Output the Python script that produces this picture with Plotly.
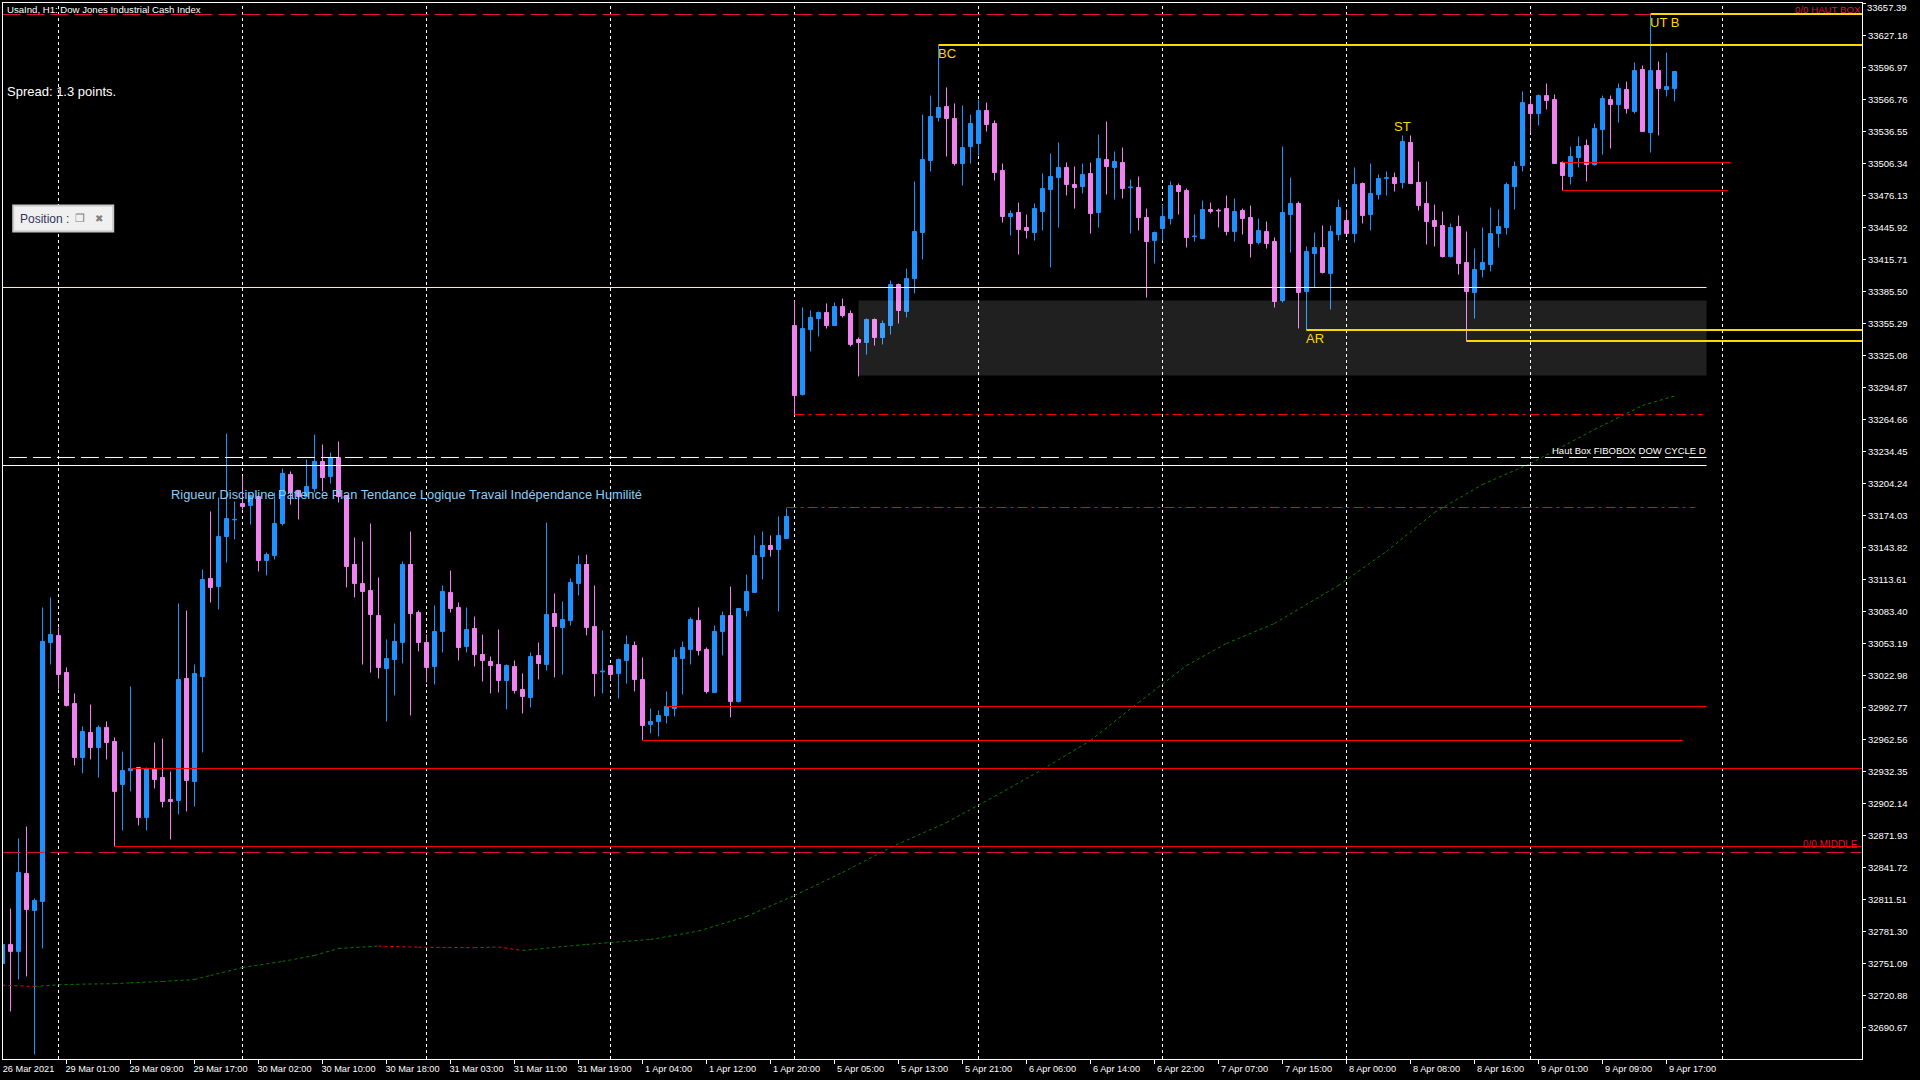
import plotly.graph_objects as go

opens = [
32751.1,32769.1,32762.5,32836.1,32801.2,32809.7,33054.1,33060.8,33025.8,32996.6,
32945.6,32969.2,32955.0,32974.0,32960.7,32920.1,32933.3,32936.1,32889.0,32934.3,
32926.7,32906.0,32905.0,33020.2,32922.9,33022.0,33114.6,33107.0,33154.2,33169.9,
33185.4,33183.5,33191.9,33131.6,33136.3,33166.5,33212.8,33197.7,33191.9,33199.5,
33225.0,33210.9,33228.8,33192.9,33127.8,33109.8,33103.2,33079.6,33029.6,33038.1,
33054.2,33127.8,33082.5,33054.2,33031.5,33064.5,33101.4,33087.2,33050.4,33067.4,
33042.8,33036.2,33033.4,33018.3,33031.5,33009.8,33002.2,33041.9,33033.4,33081.5,
33068.3,33075.0,33109.8,33127.8,33069.3,33026.4,33032.4,33024.9,33037.2,33051.3,
33019.2,32976.8,32979.6,32985.2,32991.8,33039.0,33047.6,33075.0,33047.6,33007.0,
33064.5,33079.6,32998.5,33084.4,33101.4,33135.3,33145.7,33141.9,33152.3,33353.4,
33288.3,33349.6,33360.0,33365.7,33353.4,33371.3,33364.7,33340.2,33337.4,33359.1,
33342.1,33353.4,33392.1,33366.6,33397.8,33441.2,33509.2,33549.8,33560.1,33548.8,
33506.3,33522.4,33525.2,33556.4,33544.1,33499.7,33456.3,33460.1,33445.9,33441.2,
33461.0,33481.8,33493.1,33502.6,33486.5,33484.6,33496.9,33460.1,33510.1,33502.6,
33507.3,33483.5,33483.7,33455.3,33433.6,33445.0,33454.4,33485.6,33480.8,33437.2,
33435.5,33462.9,33462.2,33463.8,33442.1,33462.0,33455.3,33431.8,33442.1,33432.7,
33377.0,33458.2,33468.6,33385.5,33421.4,33427.0,33402.5,33439.3,33452.5,33440.2,
33487.4,33458.2,33477.1,33492.3,33493.1,33488.4,33526.2,33488.4,33468.6,33452.5,
33447.8,33418.5,33446.9,33412.9,33384.6,33406.3,33411.0,33440.2,33445.9,33484.6,
33504.4,33562.0,33553.5,33570.5,33566.7,33507.3,33494.1,33512.0,33523.3,33505.4,
33538.4,33566.7,33562.0,33576.2,33555.4,33595.1,33535.6,33594.1,33576.2,33577.1]
highs = [
32787.0,32803.0,32869.1,32880.5,32812.5,33087.2,33096.6,33068.3,33030.6,33006.0,
32974.9,32995.6,32975.8,32979.6,32964.5,32951.2,33012.6,32936.1,32936.1,32959.7,
32963.5,32932.4,33091.0,33084.4,33033.4,33123.1,33177.8,33191.0,33251.4,33187.3,
33210.9,33193.9,33191.9,33139.1,33195.8,33218.4,33215.6,33197.7,33226.9,33250.5,
33241.1,33233.5,33243.9,33192.9,33153.3,33149.5,33166.5,33115.5,33057.0,33072.1,
33130.6,33158.9,33084.4,33061.7,33089.1,33108.0,33122.1,33091.9,33087.2,33078.7,
33061.7,33040.9,33066.4,33033.4,33037.2,33024.9,33044.7,33054.2,33167.4,33100.4,
33092.9,33114.6,33136.3,33137.2,33108.0,33065.5,33032.4,33039.0,33060.8,33055.1,
33040.0,32991.8,32989.9,33007.9,33047.6,33055.1,33077.8,33087.2,33049.4,33070.2,
33083.4,33107.0,33086.2,33118.3,33155.2,33158.9,33155.2,33173.1,33180.7,33377.0,
33370.4,33367.6,33366.6,33374.2,33375.1,33378.9,33367.6,33342.1,33360.0,33360.0,
33358.1,33395.9,33393.0,33407.2,33489.3,33552.6,33570.5,33617.7,33578.1,33563.0,
33561.1,33552.6,33566.7,33563.9,33546.9,33506.3,33462.0,33469.5,33458.2,33468.6,
33496.9,33515.8,33526.2,33507.3,33503.5,33506.3,33507.3,33533.7,33546.0,33517.7,
33521.4,33491.2,33494.1,33463.8,33442.1,33467.6,33489.3,33487.4,33482.7,33458.2,
33471.4,33469.5,33463.8,33476.1,33473.3,33463.8,33466.7,33454.4,33451.6,33436.5,
33522.4,33493.1,33470.5,33428.0,33441.2,33447.8,33447.8,33472.3,33462.9,33502.6,
33488.4,33506.3,33496.0,33498.8,33497.8,33532.8,33532.8,33508.2,33489.3,33467.6,
33461.0,33449.7,33457.2,33442.1,33426.1,33445.9,33464.8,33462.9,33488.4,33508.2,
33574.3,33567.7,33571.5,33581.9,33571.5,33508.2,33522.4,33531.8,33529.0,33544.1,
33570.5,33570.5,33581.9,33583.7,33601.7,33598.8,33647.0,33602.6,33611.1,33593.2]
lows = [
32706.8,32705.8,32736.0,32738.9,32665.2,32765.3,33033.4,33009.8,32993.7,32938.0,
32930.5,32943.7,32926.7,32943.7,32861.6,32876.7,32913.5,32881.4,32876.7,32916.3,
32898.4,32868.2,32891.8,32894.6,32899.3,32950.3,33091.9,33085.3,33129.7,33151.4,
33179.7,33165.5,33121.2,33117.4,33132.5,33164.6,33184.4,33170.3,33191.9,33195.8,
33196.7,33204.2,33186.3,33106.1,33096.6,33033.4,33025.8,33020.2,32979.6,33004.1,
33034.3,32985.2,33045.7,33016.4,33014.5,33044.7,33082.5,33037.2,33044.7,33031.5,
33017.3,33006.0,33007.0,32990.9,33006.0,32987.1,32992.8,33019.2,33027.7,33021.1,
33023.9,33070.2,33098.5,33060.8,33003.2,33006.0,33018.3,33001.3,33015.4,33007.9,
32961.6,32968.3,32965.4,32977.7,32984.3,33005.1,33033.4,33041.9,33006.0,33007.0,
33041.9,32983.4,32997.5,33078.7,33101.4,33113.6,33135.3,33083.4,33152.3,33269.4,
33287.3,33328.9,33343.0,33350.6,33353.4,33361.0,33333.6,33305.3,33326.0,33334.5,
33335.5,33344.9,33355.3,33361.0,33383.6,33415.7,33498.8,33546.0,33512.9,33504.4,
33485.6,33506.3,33513.9,33536.5,33490.3,33450.6,33438.4,33420.4,33435.5,33433.6,
33443.1,33408.2,33445.9,33476.1,33463.8,33478.0,33440.2,33445.9,33477.1,33472.3,
33473.3,33440.2,33443.1,33379.8,33411.9,33433.6,33448.7,33458.2,33427.0,33432.7,
33435.5,33459.1,33445.9,33438.4,33432.7,33439.3,33417.6,33429.9,33426.1,33370.4,
33375.1,33422.3,33350.6,33348.7,33389.3,33402.5,33368.5,33433.6,33440.2,33431.8,
33449.7,33443.1,33472.3,33476.1,33479.9,33482.7,33487.4,33462.0,33429.9,33428.0,
33417.6,33417.6,33401.5,33338.3,33360.0,33398.7,33404.4,33427.0,33439.3,33462.9,
33498.8,33535.6,33542.2,33557.3,33506.3,33480.8,33486.5,33502.6,33489.3,33504.4,
33514.8,33520.5,33545.0,33553.5,33553.5,33536.5,33516.7,33532.8,33569.6,33564.9]
closes = [
32769.1,32762.5,32837.0,32802.1,32810.6,33055.1,33061.7,33023.9,32994.7,32945.6,
32970.1,32955.0,32974.0,32959.7,32913.5,32933.3,32935.2,32889.0,32935.2,32924.8,
32904.1,32904.1,33019.2,32923.9,33024.9,33113.6,33106.1,33154.2,33171.2,33170.3,
33182.5,33192.9,33131.6,33137.2,33166.5,33213.7,33195.8,33191.9,33201.4,33225.0,
33209.9,33228.8,33191.9,33125.9,33109.8,33102.3,33080.6,33030.6,33039.0,33055.1,
33127.8,33081.5,33054.2,33030.6,33064.5,33102.3,33086.2,33049.4,33066.4,33042.8,
33037.2,33032.4,33018.3,33032.4,33008.8,33003.2,33040.9,33034.3,33080.6,33069.3,
33075.9,33110.8,33127.8,33068.3,33024.9,33027.0,33023.9,33038.1,33052.3,33019.2,
32975.8,32979.6,32985.2,32993.7,33040.0,33049.4,33075.9,33046.6,33007.9,33064.5,
33079.6,32998.5,33086.2,33102.3,33136.3,33145.7,33141.9,33155.2,33173.1,33287.3,
33350.6,33361.0,33365.7,33353.4,33371.3,33362.8,33335.5,33337.4,33359.1,33342.1,
33355.3,33392.1,33367.6,33397.8,33442.1,33510.1,33550.7,33559.2,33548.8,33506.3,
33521.4,33544.1,33556.4,33543.1,33497.8,33456.3,33459.1,33444.0,33443.1,33463.8,
33482.7,33494.1,33502.6,33486.5,33483.7,33496.0,33459.1,33511.0,33503.5,33508.2,
33482.7,33484.0,33455.3,33432.7,33441.2,33456.3,33485.6,33479.9,33436.5,33437.7,
33462.9,33461.0,33461.7,33442.1,33461.0,33454.4,33430.8,33443.1,33430.8,33376.1,
33460.1,33468.6,33384.6,33423.3,33427.0,33403.4,33442.1,33464.8,33440.2,33486.5,
33457.2,33478.0,33492.2,33492.8,33487.4,33527.1,33487.4,33466.7,33451.6,33446.9,
33418.5,33445.9,33411.9,33385.5,33406.3,33412.9,33440.2,33446.9,33486.5,33503.5,
33563.9,33553.5,33570.5,33565.8,33506.3,33495.0,33512.9,33522.4,33505.4,33539.4,
33567.7,33562.0,33577.1,33558.2,33594.1,33536.5,33594.1,33577.1,33579.0,33593.2]
bars = list(range(len(opens)))

# moving average
ma_bars = [0,4,7,10,14,16,20,24,26,30,35,39,42,47,52,59,62,65,73,81,87,93,99,105,111,118,124,130,136,142,148,153,159,167,173,179,185,191,199,205,209]
ma_prices = [32730.6,32729.4,32731.0,32731.6,32732.0,32732.9,32734.1,32736.0,32739.8,32747.3,32753.0,32758.7,32765.3,32767.5,32766.5,32766.0,32766.7,32763.4,32769.1,32773.8,32781.7,32795.5,32815.3,32837.0,32860.6,32884.2,32908.8,32934.3,32961.6,32997.5,33032.4,33053.2,33072.1,33108.0,33140.1,33176.9,33203.3,33223.1,33255.2,33277.9,33286.9]
ma_falling_until = {0: 1, 13: 15, 16: 17}  # index in ma_bars: red stretch start -> end

x_tick_bars = list(range(0, 209, 8))
x_tick_labels = ["26 Mar 2021","29 Mar 01:00","29 Mar 09:00","29 Mar 17:00","30 Mar 02:00","30 Mar 10:00","30 Mar 18:00",
 "31 Mar 03:00","31 Mar 11:00","31 Mar 19:00","1 Apr 04:00","1 Apr 12:00","1 Apr 20:00","5 Apr 05:00","5 Apr 13:00",
 "5 Apr 21:00","6 Apr 06:00","6 Apr 14:00","6 Apr 22:00","7 Apr 07:00","7 Apr 15:00","8 Apr 00:00","8 Apr 08:00",
 "8 Apr 16:00","9 Apr 01:00","9 Apr 09:00","9 Apr 17:00"]
grid_bars = [7,30,53,76,99,122,145,168,191,215]
y_tick_vals = [round(33657.39 - 30.21 * k, 2) for k in range(33)]
X_MIN, X_MAX, Y_MIN, Y_MAX = 0.0625, 232.4375, 32660.93, 33657.86

# horizontal levels: price, first bar, last bar, colour, width, dash
level_prices = [33647.0,32855.9,33389.3,33228.8,33221.2,33269.4,33181.6,33507.3,33480.8,32993.7,32961.6,32935.2,32861.5,33647.5,33618.2,33349.1,33338.8]
level_start  = [0,0,0,0.8,0,99,98,195,195,83,80,16,14,206,117,163,183]
level_end    = [X_MAX,X_MAX,213,213,213,212.6,211.6,216,215.7,213,210,X_MAX,X_MAX,X_MAX,X_MAX,X_MAX,X_MAX]
level_colors = ["#DC143C","#DC143C","#FFEFD5","#FFFFFF","#FFFFFF","#FF0000","#FF0000","#FF0000","#FF0000","#FF0000","#FF0000","#FF0000","#FF0000","#FFD700","#FFD700","#FFD700","#FFD700"]
level_widths = [1,1,1,1,1,1,1,1,1,1,1,1,1,2,2,2,2]
DD = "10px,4px,3px,4px"
level_dashes = ["18px,6px","18px,6px","solid","18px,6px","solid",DD,DD,"solid","solid","solid","solid","solid","solid","solid","solid","solid","solid"]

zone_bars = [107, 213]
zone_prices = [33306.2, 33377.0]

# free text: text, bar, price, colour, size, family, anchor
F = "Liberation Sans"
label_texts  = ["UsaInd, H1: Dow Jones Industrial Cash Index","Spread: 1.3 points.","Rigueur Discipline Patience Plan Tendance Logique Travail Indépendance Humilité",
                "BC","ST","AR","UT B","Haut Box FIBOBOX DOW CYCLE D","0/0 HAUT BOX","0/0 MIDDLE"]
label_bars   = [0.4,0.45,20.9,116.75,173.75,162.75,205.8,193.6,232.4,232.1]
label_prices = [33651.5,33574.4,33194.2,33610.0,33541.0,33341.0,33639.5,33235.0,33651.8,32863.3]
label_colors = ["#FFFFFF","#FFFFFF","#87CEFA","#FFD700","#FFD700","#FFD700","#FFD700","#FFFFFF","#DC143C","#DC143C"]
label_sizes  = [9.6,13,12.85,13,13,13,13,9.5,9.7,10]
label_anchor = ["left","left","left","left","left","left","left","left","right","right"]

fig = go.Figure()
fig.add_trace(go.Candlestick(
    x=bars, open=opens, high=highs, low=lows, close=closes,
    increasing=dict(line=dict(color="#1E90FF", width=1), fillcolor="#1E90FF"),
    decreasing=dict(line=dict(color="#EE82EE", width=1), fillcolor="#EE82EE"),
    whiskerwidth=0, hoverinfo="skip", showlegend=False))

# moving average: green rising stretches, red falling stretches
is_red = [False] * (len(ma_bars) - 1)
for a, b in ma_falling_until.items():
    for k in range(a, b):
        is_red[k] = True
for flag, colour in ((False, "#008000"), (True, "#FF0000")):
    xs, ys = [], []
    for k, red in enumerate(is_red):
        if red == flag:
            xs += [ma_bars[k], ma_bars[k + 1], None]
            ys += [ma_prices[k], ma_prices[k + 1], None]
    fig.add_trace(go.Scatter(x=xs, y=ys, mode="lines", showlegend=False, hoverinfo="skip",
                             line=dict(color=colour, width=1, dash="3px,3px")))

shapes = []
for g in grid_bars:
    shapes.append(dict(type="line", layer="below", x0=g, x1=g, yref="paper", y0=0, y1=1,
                       line=dict(color="#FFFFFF", width=1, dash="3px,3px")))
shapes.append(dict(type="rect", layer="above", x0=zone_bars[0], x1=zone_bars[1], y0=zone_prices[0], y1=zone_prices[1],
                   fillcolor="rgba(255,255,255,0.125)", line=dict(width=0)))
for p, s, e, c, w, d in zip(level_prices, level_start, level_end, level_colors, level_widths, level_dashes):
    shapes.append(dict(type="line", layer="above", x0=s, x1=e, y0=p, y1=p, line=dict(color=c, width=w, dash=d)))
# the small "Position" panel
shapes.append(dict(type="rect", layer="above", x0=1.34, x1=13.84, y0=33442.1, y1=33466.7,
                   fillcolor="#F0F0F0", line=dict(color="#C8C8C8", width=2)))

annotations = []
for t, b, p, c, s, a in zip(label_texts, label_bars, label_prices, label_colors, label_sizes, label_anchor):
    annotations.append(dict(x=b, y=p, text=t, showarrow=False, xanchor=a, yanchor="middle",
                            font=dict(color=c, size=s, family=F), borderpad=0))
annotations.append(dict(x=2.0, y=33454.4, text="Position :", showarrow=False, xanchor="left", yanchor="middle",
                        font=dict(color="#33335A", size=12, family=F), borderpad=0))
annotations.append(dict(x=8.95, y=33454.4, text="❐", showarrow=False, xanchor="left", yanchor="middle",
                        font=dict(color="#808080", size=11, family="DejaVu Sans"), borderpad=0))
annotations.append(dict(x=11.45, y=33454.4, text="✖", showarrow=False, xanchor="left", yanchor="middle",
                        font=dict(color="#808080", size=10, family="DejaVu Sans"), borderpad=0))
# the top axis label sits against the window edge, so it is placed by hand, just inside the page
annotations.append(dict(xref="paper", x=1.0024, y=33654.0, text=f"{y_tick_vals[0]:.2f}", showarrow=False, xanchor="left",
                        yanchor="middle", font=dict(color="#FFFFFF", size=9.5, family=F), borderpad=0))

fig.update_layout(
    width=1920, height=1080, autosize=False,
    margin=dict(l=3, r=58, t=3, b=21, pad=0),
    paper_bgcolor="#000000", plot_bgcolor="#000000",
    boxgap=0.5, boxgroupgap=0, showlegend=False,
    shapes=shapes, annotations=annotations,
    xaxis=dict(range=[X_MIN, X_MAX], rangeslider=dict(visible=False), showgrid=False, zeroline=False,
               showline=True, linecolor="#FFFFFF", linewidth=1, mirror=True,
               tickmode="array", tickvals=[b + 3.25 for b in x_tick_bars], ticktext=x_tick_labels,
               ticks="outside", ticklen=1, tickcolor="rgba(0,0,0,0)", tickangle=0,
               tickfont=dict(color="#FFFFFF", size=9.2, family=F),
               minor=dict(tickmode="array", tickvals=x_tick_bars, ticks="outside", ticklen=4,
                          tickcolor="#FFFFFF", tickwidth=1, showgrid=False)),
    yaxis=dict(range=[Y_MIN, Y_MAX], side="right", showgrid=False, zeroline=False,
               showline=True, linecolor="#FFFFFF", linewidth=1, mirror=True,
               tickmode="array", tickvals=y_tick_vals, ticktext=[f"{v:.2f}" for v in y_tick_vals],
               ticks="outside", ticklen=3, tickcolor="#FFFFFF", tickwidth=1,
               tickfont=dict(color="#FFFFFF", size=9.5, family=F)),
)
fig.write_html("out.html", config={"displayModeBar": False},
               post_script="document.body.style.margin='0';document.body.style.overflow='hidden';")
